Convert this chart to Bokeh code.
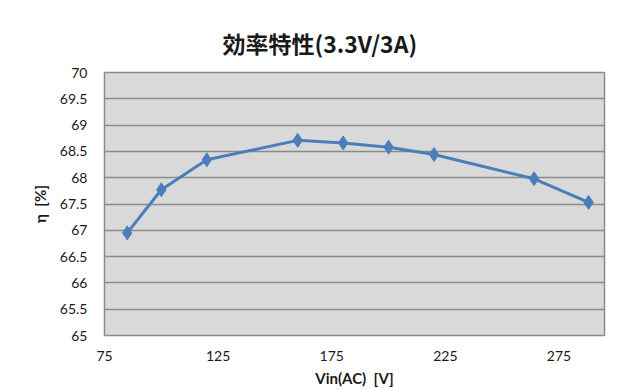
from bokeh.plotting import figure
from bokeh.models import Range1d, FixedTicker, ColumnDataSource, Title
from bokeh.embed import file_html
from bokeh.resources import INLINE

# Data
vin = [85, 100, 120, 160, 180, 200, 220, 264, 288]
eta = [66.95, 67.77, 68.34, 68.71, 68.66, 68.58, 68.44, 67.98, 67.53]
x_ticks = [75, 125, 175, 225, 275]
y_ticks = [65, 65.5, 66, 66.5, 67, 67.5, 68, 68.5, 69, 69.5, 70]

title_text = "効率特性(3.3V/3A)"
x_label = "Vin(AC)\u00a0\u00a0[V]"
y_label = "η\u00a0\u00a0[%]"

BLUE = "#4a7ebb"
GRID = "#8a8a8a"
FONT = "Lato"

src = ColumnDataSource(dict(x=vin, y=eta))

p = figure(width=632, height=390, output_backend="svg", toolbar_location=None,
           x_range=Range1d(75, 295), y_range=Range1d(65, 70),
           min_border_left=104, min_border_right=28, min_border_top=72,
           min_border_bottom=55, background_fill_color="#d9d9d9",
           border_fill_color="white")
p.title = None

t = Title(text=title_text, align="left", offset=118, text_font_size="23px",
          text_font="Noto Sans CJK JP", text_font_style="bold",
          text_color="#1a1a1a", standoff=25)
p.add_layout(t, "above")

p.outline_line_color = GRID
p.outline_line_width = 1.5

p.xgrid.visible = False
p.ygrid.ticker = FixedTicker(ticks=y_ticks)
p.ygrid.grid_line_color = GRID
p.ygrid.grid_line_width = 1.5

for ax in (p.xaxis[0], p.yaxis[0]):
    ax.axis_line_color = None
    ax.major_tick_line_color = None
    ax.minor_tick_line_color = None
    ax.major_tick_out = 0
    ax.major_tick_in = 0
    ax.minor_tick_out = 0
    ax.minor_tick_in = 0
    ax.major_label_text_font = FONT
    ax.major_label_text_font_size = "14px"
    ax.major_label_text_color = "#1a1a1a"
    ax.axis_label_text_font = FONT
    ax.axis_label_text_font_size = "15px"
    ax.axis_label_text_font_style = "bold"
    ax.axis_label_text_color = "#1a1a1a"

p.xaxis[0].ticker = FixedTicker(ticks=x_ticks)
p.yaxis[0].ticker = FixedTicker(ticks=y_ticks)
p.xaxis[0].major_label_standoff = 15
p.yaxis[0].major_label_standoff = 17
p.xaxis[0].axis_label = x_label
p.yaxis[0].axis_label = y_label
p.xaxis[0].axis_label_standoff = 5
p.yaxis[0].axis_label_standoff = 8

p.line("x", "y", source=src, line_color=BLUE, line_width=3)
p.scatter("x", "y", source=src, marker="diamond", size=14, fill_color=BLUE,
          line_color=BLUE)

open("out.html", "w").write(file_html(p, INLINE))
